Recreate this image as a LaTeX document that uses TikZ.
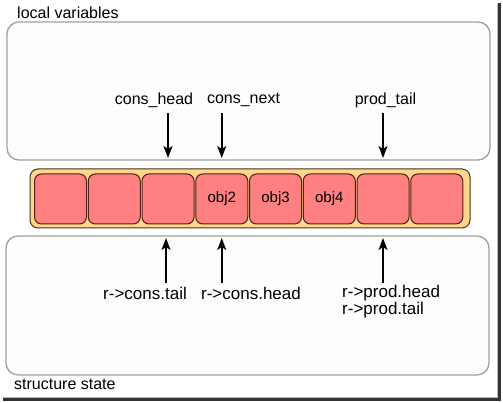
\documentclass[tikz,border=0pt]{standalone}
\usepackage{fontspec}
\setmainfont{Liberation Sans}
\usetikzlibrary{arrows.meta}
\definecolor{boxline}{RGB}{160,160,160}
\definecolor{boxfill}{RGB}{253,253,253}
\definecolor{ringfill}{RGB}{255,214,138}
\definecolor{ringline}{RGB}{70,50,20}
\definecolor{cellfill}{RGB}{255,128,128}
\definecolor{cellline}{RGB}{80,30,25}
\begin{document}
\begin{tikzpicture}[x=1pt, y=-1pt,
  area/.style={draw=boxline, line width=1.3pt, fill=boxfill, rounded corners=12pt,
    minimum width=483pt, inner sep=0},
  ring/.style={draw=ringline, line width=1pt, fill=ringfill, rounded corners=8pt,
    minimum width=440pt, minimum height=59pt, inner sep=0},
  slot/.style={draw=cellline, line width=1pt, fill=cellfill, rounded corners=7pt,
    minimum width=52pt, minimum height=50pt, inner sep=0, font=\fontsize{15}{15}\selectfont},
  label/.style={inner sep=0, font=\fontsize{16}{17}\selectfont},
  ptr/.style={inner sep=0, font=\fontsize{17}{17}\selectfont},
  pointer/.style={line width=1.5pt, -{Stealth[length=12pt, width=9pt, inset=3pt]}}]
\useasboundingbox (0,0) rectangle (503,403);
% screenshot shadow
\draw[boxline!70, line width=.8pt] (497,3) -- (497,397) -- (3,397);
\draw[black!80, line width=3pt] (499.5,3) -- (499.5,399.5) -- (3,399.5);

% the two areas
\node [area, minimum height=138pt] (locals) at (248.5,91) {};
\node [area, minimum height=139pt] (state) at (247.5,305.5) {};
\node [label, anchor=west] (loctitle) at (17,13) {local variables};
\node [label, anchor=west] (sttitle) at (14,384) {structure state};

% the ring buffer
\node [ring] (buffer) at (250,198.5) {};
\node [slot] (c1) at (60.5,199) {};
\node [slot] (c2) at (114.25,199) {};
\node [slot] (c3) at (168,199) {};
\node [slot] (c4) at (221.75,199) {obj2};
\node [slot] (c5) at (275.5,199) {obj3};
\node [slot] (c6) at (329.25,199) {obj4};
\node [slot] (c7) at (383,199) {};
\node [slot] (c8) at (436.75,199) {};

% local variables
\node [label] (conshead) at (154,100) {cons\_head};
\node [label] (consnext) at (243.5,100) {cons\_next};
\node [label] (prodtail) at (385.5,100) {prod\_tail};
\coordinate (t3) at (168,113);
\coordinate (t4) at (221.75,113);
\coordinate (t7) at (383,113);
\coordinate (h3) at (168,158);
\coordinate (h4) at (221.75,158);
\coordinate (h7) at (383,158);
\draw [pointer] (t3) -- (h3);
\draw [pointer] (t4) -- (h4);
\draw [pointer] (t7) -- (h7);

% structure state
\node [ptr] (constail) at (145,293) {r->cons.tail};
\node [ptr] (conshd) at (251,293) {r->cons.head};
\node [ptr, anchor=west, align=left] (prod) at (342,301.5) {r->prod.head\\r->prod.tail};
\coordinate (b3) at (166,283);
\coordinate (b4) at (221.75,283);
\coordinate (b7) at (383,283);
\coordinate (u3) at (166,238);
\coordinate (u4) at (221.75,238);
\coordinate (u7) at (383,238);
\draw [pointer] (b3) -- (u3);
\draw [pointer] (b4) -- (u4);
\draw [pointer] (b7) -- (u7);
\end{tikzpicture}
\end{document}
